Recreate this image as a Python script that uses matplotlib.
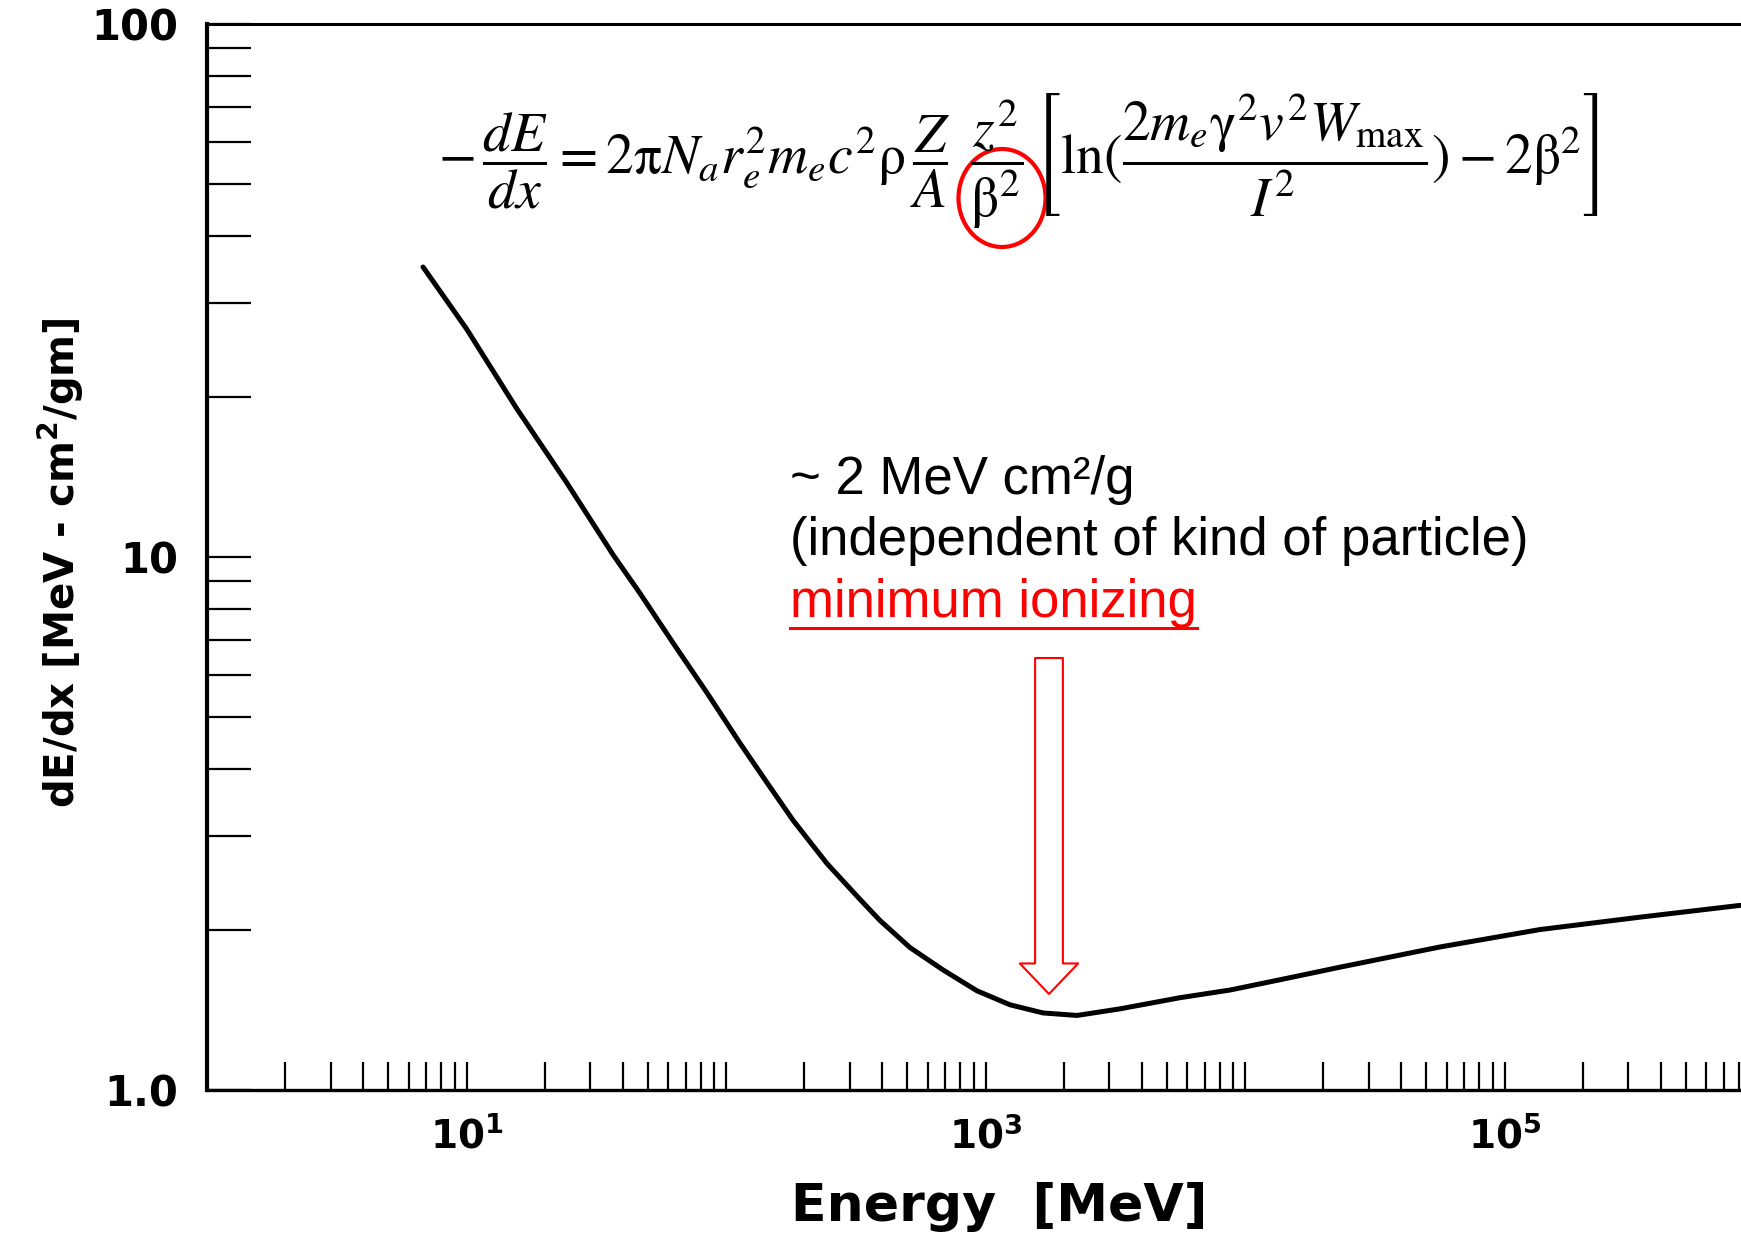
import numpy as np
import matplotlib
matplotlib.use('Agg')
import matplotlib.pyplot as plt
from matplotlib.lines import Line2D
from matplotlib.patches import Ellipse
from matplotlib.ticker import LogLocator, FixedLocator, FixedFormatter, NullFormatter, FuncFormatter

# Bethe-Bloch stopping power curve
energy_mev = [6.8, 10.0, 15.6, 24.3, 36.7, 46.6, 62.5, 84.5, 113, 144, 181, 245,
              328, 392, 512, 686, 927, 1243, 1666, 2253, 3300, 5620, 8750, 13640,
              23240, 56400, 137000, 333000, 808000]
dedx = [35.0, 26.8, 19.0, 13.8, 10.1, 8.55, 6.90, 5.56, 4.48, 3.77, 3.21, 2.66,
        2.28, 2.08, 1.85, 1.68, 1.535, 1.445, 1.395, 1.38, 1.42, 1.49, 1.54, 1.61,
        1.70, 1.855, 2.00, 2.11, 2.22]

y_ticks = [1, 10, 100]
y_ticklabels = ['1.0', '10', '100']
x_labelled_exponents = [1, 3, 5]

W, H = 1741, 1234
fig = plt.figure(figsize=(W / 100, H / 100), dpi=100)
fig.patch.set_facecolor('white')

ax = fig.add_axes([207 / W, 1 - 1090 / H, 1 - 207 / W, (1090 - 24) / H])
ax.plot(energy_mev, dedx, color='black', lw=3.6, solid_capstyle='round',
        solid_joinstyle='round')

ax.set_xscale('log')
ax.set_yscale('log')
ax.set_xlim(1, 10 ** ((W - 207) / 259.5))
ax.set_ylim(1, 100)

ax.spines['right'].set_visible(False)
ax.spines['left'].set_linewidth(3.0)
ax.spines['top'].set_linewidth(2.2)
ax.spines['bottom'].set_linewidth(2.4)

ax.xaxis.set_major_locator(LogLocator(base=10, numticks=20))
ax.xaxis.set_minor_locator(LogLocator(base=10, subs=np.arange(2, 10), numticks=20))
ax.xaxis.set_minor_formatter(NullFormatter())


def xfmt(v, pos):
    e = int(round(np.log10(v)))
    if e in x_labelled_exponents:
        return r'$\mathbf{10^{%d}}$' % e
    return ''


ax.xaxis.set_major_formatter(FuncFormatter(xfmt))

ax.yaxis.set_major_locator(FixedLocator(y_ticks))
ax.yaxis.set_major_formatter(FixedFormatter(y_ticklabels))
ax.yaxis.set_minor_locator(LogLocator(base=10, subs=np.arange(2, 10), numticks=20))
ax.yaxis.set_minor_formatter(NullFormatter())

ax.tick_params(axis='x', which='both', direction='in', length=20, width=1.6,
               top=False, pad=19, labelsize=28)
ax.tick_params(axis='y', which='both', direction='in', length=32, width=1.6,
               right=False, pad=21, labelsize=30)
for lab in ax.get_xticklabels() + ax.get_yticklabels():
    lab.set_fontweight('bold')

# axis titles
fig.text(999 / W, 1 - 1207 / H, 'Energy  [MeV]', ha='center', va='center',
         fontsize=37.5, fontweight='bold')
fig.text(61 / W, 1 - 563 / H, r'dE/dx [MeV - cm$^{\mathbf{2}}$/gm]', ha='center',
         va='center', rotation=90, fontsize=29, fontweight='bold')

# Bethe-Bloch formula
formula = (r'$-\,\dfrac{dE}{dx} = 2\mathrm{\pi} N_a r_e^2 m_e c^2 \mathrm{\rho}\,'
           r'\dfrac{Z}{A}\;\,\dfrac{z^2}{\mathrm{\beta}^2}\,'
           r'\left[\ln(\dfrac{2m_e\mathrm{\gamma}^2 v^2 W_{\max}}{I^2}) - 2\mathrm{\beta}^2\right]$')
ftxt = fig.text(1019 / W, 1 - 161 / H, formula, ha='center', va='center',
                fontsize=30, math_fontfamily='stix')

# annotation text
txt_font = 'Liberation Sans'
fig.text(790 / W, 1 - 494 / H, '~ 2 MeV cm\u00b2/g', ha='left', va='baseline',
         fontsize=38, family=txt_font)
fig.text(790 / W, 1 - 555 / H, '(independent of kind of particle)', ha='left',
         va='baseline', fontsize=38, family=txt_font)
t3 = fig.text(790 / W, 1 - 617 / H, 'minimum ionizing', ha='left', va='baseline',
              fontsize=38, family=txt_font, color='red')

# scale formula to the width it has in the original slide
fig.canvas.draw()
fw = ftxt.get_window_extent().width
ftxt.set_fontsize(30 * 1160 / fw)

fig.canvas.draw()
bb = t3.get_window_extent()
fig.add_artist(Line2D([bb.x0 / W, bb.x1 / W], [1 - 628 / H, 1 - 628 / H],
                      transform=fig.transFigure, color='red', lw=2.2))

ell = Ellipse((1002 / W, 1 - 198 / H), 87 / W, 98 / H, transform=fig.transFigure,
              fill=False, ec='red', lw=3)
fig.add_artist(ell)

# hollow block arrow pointing at the minimum
ax.annotate('', xy=(1049, H - 994), xycoords='figure pixels',
            xytext=(1049, H - 658), textcoords='figure pixels',
            arrowprops=dict(arrowstyle='simple,head_length=1.1,head_width=2.1,tail_width=1.0',
                            fc='white', ec='red', lw=1.5, shrinkA=0, shrinkB=0,
                            mutation_scale=20))

fig.savefig('out.png', dpi=100, facecolor='white')
